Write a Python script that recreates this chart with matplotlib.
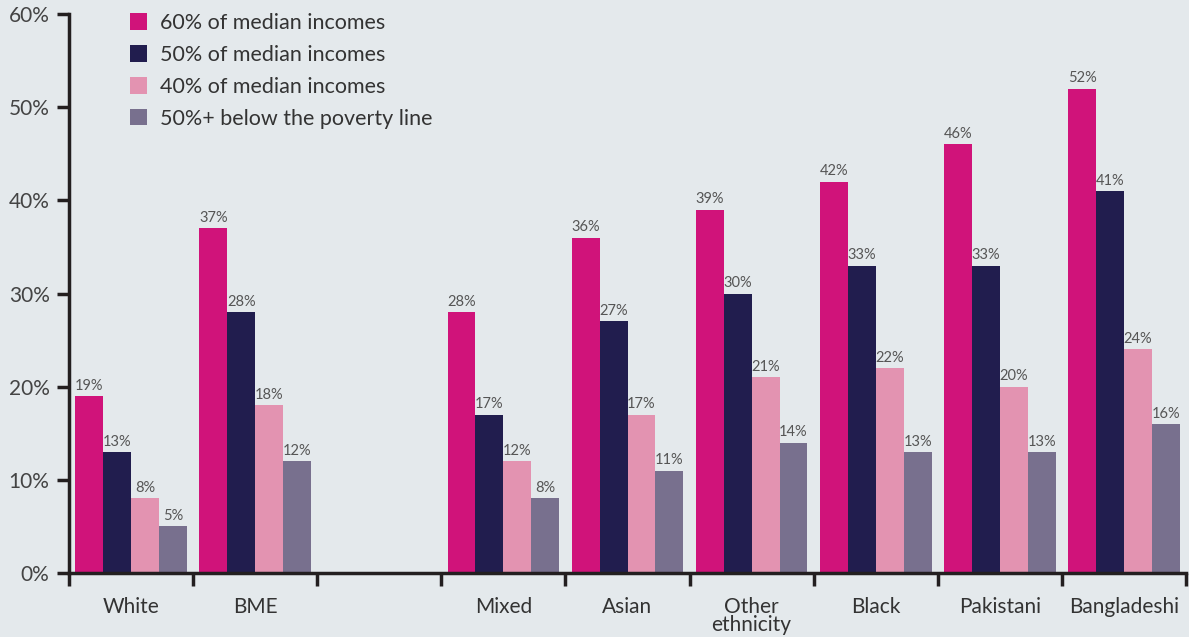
import numpy as np
import matplotlib
matplotlib.use("Agg")
import matplotlib.pyplot as plt

# Data
categories = ["White", "BME", "", "Mixed", "Asian", "Other\nethnicity",
              "Black", "Pakistani", "Bangladeshi"]
series_names = ["60% of median incomes", "50% of median incomes",
                "40% of median incomes", "50%+ below the poverty line"]
pct60 = [19, 37, None, 28, 36, 39, 42, 46, 52]
pct50 = [13, 28, None, 17, 27, 30, 33, 33, 41]
pct40 = [8, 18, None, 12, 17, 21, 22, 20, 24]
pct50plus = [5, 12, None, 8, 11, 14, 13, 13, 16]

colors = ["#d0137a", "#211d4e", "#e393b1", "#78708e"]
bg = "#e4e9ec"
textc = "#333333"

plt.rcParams['font.family'] = ['Lato', 'DejaVu Sans']

fig = plt.figure(figsize=(11.89, 6.37), dpi=100, facecolor=bg)
ax = fig.add_axes([69 / 1189, 1 - 573 / 637, (1186 - 69) / 1189, (573 - 14) / 637])
ax.set_facecolor(bg)

x = np.arange(len(categories))
w = 0.225
for i, (vals, name) in enumerate(zip([pct60, pct50, pct40, pct50plus], series_names)):
    xs = [xx + (i - 1.5) * w for xx, v in zip(x, vals) if v is not None]
    vs = [v for v in vals if v is not None]
    bars = ax.bar(xs, vs, width=w, color=colors[i], label=name, linewidth=0)
    for b, v in zip(bars, vs):
        ax.text(b.get_x() + b.get_width() / 2, v + 0.35, f"{v}%", ha="center",
                va="bottom", fontsize=10.5, color="#555555")

ax.set_xlim(-0.5, len(categories) - 0.5)
ax.set_ylim(0, 60)
ax.set_yticks(range(0, 61, 10))
ax.set_yticklabels([f"{v}%" for v in range(0, 61, 10)], fontsize=15, color="#444444")

# group labels between boundary ticks
ax.set_xticks(np.arange(-0.5, len(categories), 1))
ax.set_xticklabels([])
ax.set_xticks(x, minor=True)
ax.set_xticklabels(categories, minor=True, fontsize=15, color=textc, linespacing=0.9)
ax.tick_params(axis="x", which="minor", length=0, pad=17)
ax.tick_params(axis="x", which="major", length=9, width=2.5, color="#231f20", direction="out")
ax.tick_params(axis="y", length=9, width=2.5, color="#231f20", direction="out", pad=5)
for lab in ax.get_xticklabels(minor=True):
    lab.set_verticalalignment("top")

for s in ["top", "right"]:
    ax.spines[s].set_visible(False)
for s in ["left", "bottom"]:
    ax.spines[s].set_linewidth(2.5)
    ax.spines[s].set_color("#231f20")

leg = ax.legend(loc="upper left", bbox_to_anchor=(0.047, 1.017), frameon=False,
                fontsize=15.5, handlelength=0.8, handleheight=0.8,
                handletextpad=0.6, labelspacing=0.55, borderaxespad=0)
for t in leg.get_texts():
    t.set_color(textc)

fig.savefig("out.png", dpi=100, facecolor=bg)
